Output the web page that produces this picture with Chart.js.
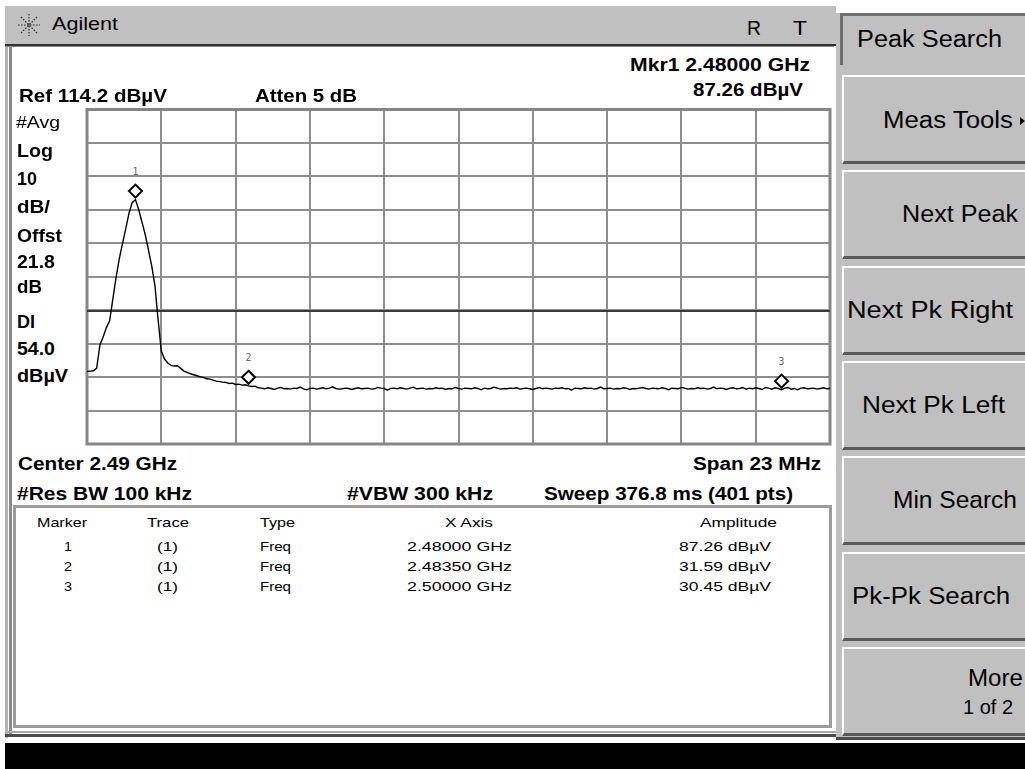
<!DOCTYPE html>
<html>
<head>
<meta charset="utf-8">
<script src="https://cdn.jsdelivr.net/npm/chart.js@4"></script>
<style>
  html, body { margin: 0; padding: 0; }
  body { width: 1025px; height: 769px; position: relative; overflow: hidden; background: #fff;
         font-family: "Liberation Sans", Arial, sans-serif; }
  .box { position: absolute; box-sizing: border-box; }
  .lbl { position: absolute; white-space: nowrap; line-height: 1.2; transform-origin: 0 50%; color: #000; }
  .key { position: absolute; box-sizing: border-box; left: 842px; width: 183px; height: 89px; background: #c0c0c0;
         border-top: 2px solid #fff; border-left: 2px solid #fff; border-bottom: 3px solid #5a5a5a; }
  #trace { position: absolute; left: 80px; top: 102px; }
</style>
</head>
<body>
<!-- title bar -->
<div class="box" style="left:5px;top:6px;width:831px;height:38px;background:#c0c0c0"></div>
<div class="box" style="left:5px;top:44px;width:831px;height:2px;background:#333"></div>
<div class="box" style="left:5px;top:46px;width:829px;height:1px;background:#8a8a8a"></div>
<svg style="position:absolute;left:17px;top:13px" width="24" height="24">
  <g stroke="#333" stroke-width="1.2" stroke-dasharray="1.6 1.4">
    <line x1="12" y1="1" x2="12" y2="23"/><line x1="1" y1="12" x2="23" y2="12"/>
    <line x1="4" y1="4" x2="20" y2="20"/><line x1="20" y1="4" x2="4" y2="20"/>
  </g>
</svg>
<!-- display frame -->
<div class="box" style="left:5px;top:47px;width:3px;height:691px;background:#b4b4b4"></div>
<div class="box" style="left:9px;top:47px;width:3px;height:688px;background:#8a8a8a"></div>
<div class="box" style="left:13px;top:505px;width:819px;height:223px;border:3px solid #9c9c9c;background:#fff"></div>
<div class="box" style="left:5px;top:731px;width:831px;height:2px;background:#a8a8a8"></div>
<div class="box" style="left:5px;top:734px;width:831px;height:3px;background:#4a4a4a"></div>
<div class="box" style="left:5px;top:743px;width:1020px;height:26px;background:#000"></div>
<!-- softkey panel -->
<div class="box" style="left:836px;top:13px;width:189px;height:727px;background:#c0c0c0"></div>
<div class="box" style="left:836px;top:737px;width:189px;height:3px;background:#4a4a4a"></div>
<div class="box" style="left:840px;top:13px;width:185px;height:52px;background:#c0c0c0;border-top:3px solid #6e6e6e;border-left:3px solid #6e6e6e"></div>
<div id="keys"></div>
<div class="box" style="left:1020px;top:117px;width:0;height:0;border-left:5px solid #000;border-top:4px solid transparent;border-bottom:4px solid transparent"></div>

<canvas id="trace" width="760" height="350"></canvas>

<script>
// instrument settings
var refLevel = 114.2;      // dBµV, top graticule line
var dbPerDiv = 10;
var displayLine = 54.0;    // dBµV
var centerGHz = 2.49;
var spanMHz = 23;
var sweepStartGHz = 2.4785; // first sweep point (left edge)
var sweepStepGHz = 0.0001;  // spacing of the sampled points below

// trace amplitudes (dBµV), one per sweep step
var traceAmps = [
  35.9, 36.0, 36.1, 36.9, 43.8, 46.2, 49.0, 51.0, 57.5, 64.0,
  69.6, 74.2, 78.6, 83.2, 86.4, 87.26, 84.3, 80.6, 76.9, 72.3,
  67.6, 61.8, 51.5, 42.0, 39.6, 38.4, 37.7, 37.5, 37.6, 36.8,
  36.0, 35.6, 35.2, 34.9, 34.6, 34.3, 34.1, 33.7, 33.6, 33.3,
  33.0, 32.9, 32.7, 32.6, 32.3, 32.4, 32.0, 32.1, 31.8, 31.9,
  31.59, 31.4, 31.5, 31.0,
  30.9, 30.7, 31.0, 30.8, 30.5, 30.9, 31.1, 30.7, 30.8, 30.6,
  30.9, 30.8, 31.2, 30.7, 30.4, 30.8, 30.9, 30.6, 30.8, 31.0,
  30.7, 30.9, 31.3, 30.8, 30.6, 30.7, 30.9, 30.8, 30.5, 30.8,
  31.0, 30.7, 30.8, 30.9, 30.6, 30.7, 31.1, 30.9, 30.8, 30.3,
  30.8, 30.9, 30.7, 31.0, 30.8, 30.6, 30.9, 31.2, 30.7, 30.8,
  30.9, 30.6, 30.8, 30.7, 31.0, 30.8, 30.9, 30.5, 30.8, 30.7,
  31.1, 30.8, 30.6, 30.9, 30.8, 30.7, 31.0, 30.8, 30.4, 30.9,
  30.7, 30.8, 31.2, 30.9, 30.6, 30.8, 30.7, 30.9, 30.8, 31.0,
  30.6, 30.8, 30.9, 30.7, 30.5, 30.8, 31.1, 30.7, 30.9, 30.8,
  30.6, 30.9, 30.8, 31.0, 30.7, 30.8, 30.3, 30.9, 30.8, 30.7,
  31.0, 30.8, 30.9, 30.6, 30.8, 31.2, 30.7, 30.8, 30.9, 30.6,
  30.8, 30.7, 31.0, 30.9, 30.5, 30.8, 30.7, 30.9, 31.1, 30.8,
  30.6, 30.9, 30.8, 30.7, 31.0, 30.8, 30.4, 30.9, 30.8, 30.7,
  31.1, 30.9, 30.6, 30.8, 30.7, 31.0, 30.8, 30.9, 30.6, 30.8,
  31.2, 30.7, 30.9, 30.8, 30.5, 30.9, 31.0, 30.7, 30.8, 31.1,
  30.6, 30.9, 30.7, 31.0, 30.8, 30.5, 31.1, 30.9, 30.6, 31.0,
  30.8, 30.45, 30.9, 31.1, 30.6, 30.8, 30.4, 30.9, 31.0, 30.7,
  30.8, 30.9, 30.6, 30.8, 31.0, 30.7, 30.8
];

// markers
var markerFreqs = [2.48000, 2.48350, 2.50000];  // GHz
var markerAmps = [87.26, 31.59, 30.45];          // dBµV

var softkeys = ['Meas Tools', 'Next Peak', 'Next Pk Right', 'Next Pk Left', 'Min Search', 'Pk-Pk Search', 'More'];

// text helper: stretch text horizontally to span left..right like the instrument font
function label(text, left, right, cy, size, weight, color) {
  var d = document.createElement('div');
  d.className = 'lbl';
  d.textContent = text;
  d.style.fontSize = size + 'px';
  d.style.fontWeight = weight || 'normal';
  if (color) d.style.color = color;
  d.style.left = left + 'px';
  d.style.top = (cy - size * 0.6) + 'px';
  document.body.appendChild(d);
  var w = d.getBoundingClientRect().width;
  if (right) d.style.transform = 'scaleX(' + ((right - left) / w).toFixed(3) + ')';
}

// softkey buttons
var keyBox = document.getElementById('keys');
softkeys.forEach(function (k, i) {
  var b = document.createElement('div');
  b.className = 'key';
  b.style.top = (75 + i * 95.3) + 'px';
  keyBox.appendChild(b);
});

label('Agilent', 52, 118, 24, 19);
label('R', 747, 761, 28, 21);
label('T', 793, 807, 28, 21);

label('Mkr1 ' + markerFreqs[0].toFixed(5) + ' GHz', 630, 810, 66, 18, 'bold');
label('Ref ' + refLevel.toFixed(1) + ' dBµV', 19, 167, 96.5, 18, 'bold');
label('Atten 5 dB', 255, 357, 96.5, 18, 'bold');
label(markerAmps[0].toFixed(2) + ' dBµV', 693, 803, 91, 18, 'bold');

label('#Avg', 16, 60, 123, 16);
label('Log', 17, 53, 152, 18, 'bold');
label(String(dbPerDiv), 17, 37, 180, 18, 'bold');
label('dB/', 17, 50, 208, 18, 'bold');
label('Offst', 17, 62, 237, 18, 'bold');
label('21.8', 17, 55, 263, 18, 'bold');
label('dB', 17, 42, 288, 18, 'bold');
label('DI', 17, 35, 323, 18, 'bold');
label(displayLine.toFixed(1), 17, 55, 350, 18, 'bold');
label('dBµV', 17, 68, 377, 18, 'bold');

label('Center ' + centerGHz + ' GHz', 18, 177, 465, 18, 'bold');
label('Span ' + spanMHz + ' MHz', 693, 821, 465, 18, 'bold');
label('#Res  BW 100 kHz', 17, 192, 495, 18, 'bold');
label('#VBW 300 kHz', 347, 493, 495, 18, 'bold');
label('Sweep 376.8 ms (401 pts)', 544, 793, 495, 18, 'bold');

label('Marker', 37, 87, 523, 13);
label('Trace', 147, 189, 523, 13);
label('Type', 260, 295, 523, 13);
label('X Axis', 445, 493, 523, 13);
label('Amplitude', 700, 777, 523, 13);
markerFreqs.forEach(function (f, i) {
  var cy = 547 + i * 20;
  label(String(i + 1), 64, 72, cy, 13);
  label('(1)', 157, 178, cy, 13);
  label('Freq', 260, 291, cy, 13);
  label(f.toFixed(5) + ' GHz', 407, 512, cy, 13);
  label(markerAmps[i].toFixed(2) + ' dBµV', 679, 771, cy, 13);
});

label('Peak Search', 857, 1002, 40, 23);
var keyText = [[883, 1013, 121], [902, 1018, 215], [847, 1013, 311], [862, 1005, 406],
               [893, 1017, 501], [852, 1010, 597], [968, 1023, 679]];
softkeys.forEach(function (k, i) {
  label(k, keyText[i][0], keyText[i][1], keyText[i][2], 23);
});
label('1 of 2', 963, 1013, 707, 20);

// trace points through the library scales
var tracePoints = traceAmps.map(function (a, i) {
  return { x: sweepStartGHz + i * sweepStepGHz, y: a };
});

var analyzer = {
  id: 'analyzer',
  beforeDatasetsDraw: function (c) {
    var ctx = c.ctx, a = c.chartArea;
    var yy = Math.round(c.scales.y.getPixelForValue(displayLine));
    ctx.save();
    ctx.strokeStyle = '#858585';
    ctx.lineWidth = 3;
    ctx.strokeRect(a.left, a.top, a.right - a.left, a.bottom - a.top);
    ctx.strokeStyle = '#3a3a3a';
    ctx.lineWidth = 2;
    ctx.beginPath();
    ctx.moveTo(a.left, yy);
    ctx.lineTo(a.right, yy);
    ctx.stroke();
    ctx.restore();
  },
  afterDatasetsDraw: function (c) {
    var ctx = c.ctx, xs = c.scales.x, ys = c.scales.y;
    ctx.save();
    markerFreqs.forEach(function (f, i) {
      var px = xs.getPixelForValue(f), py = ys.getPixelForValue(markerAmps[i]);
      var cy = py - 8.5, r = 6.5;
      ctx.beginPath();
      ctx.moveTo(px, cy - r);
      ctx.lineTo(px + r, cy);
      ctx.lineTo(px, cy + r);
      ctx.lineTo(px - r, cy);
      ctx.closePath();
      ctx.fillStyle = '#fff';
      ctx.fill();
      ctx.lineWidth = 2;
      ctx.strokeStyle = '#000';
      ctx.stroke();
      ctx.fillStyle = '#666';
      ctx.font = '10px "DejaVu Sans Mono"';
      ctx.textAlign = 'center';
      ctx.fillText(String(i + 1), px, py - 25);
    });
    ctx.restore();
  }
};

var gridStyle = { color: '#8e8e8e', lineWidth: 2, drawTicks: false };

new Chart(document.getElementById('trace'), {
  type: 'line',
  data: {
    datasets: [{
      data: tracePoints,
      borderColor: '#000',
      borderWidth: 1.4,
      pointRadius: 0,
      tension: 0,
      fill: false
    }]
  },
  options: {
    responsive: false,
    animation: false,
    events: [],
    layout: { padding: { left: 7, top: 7.5, right: 10, bottom: 8 } },
    plugins: { legend: { display: false }, title: { display: false }, tooltip: { enabled: false } },
    scales: {
      x: {
        type: 'linear',
        min: centerGHz - spanMHz / 2000,
        max: centerGHz + spanMHz / 2000,
        ticks: { display: false, count: 11 },
        grid: gridStyle,
        border: { display: false }
      },
      y: {
        min: refLevel - 10 * dbPerDiv,
        max: refLevel,
        ticks: { display: false, count: 11 },
        grid: gridStyle,
        border: { display: false }
      }
    }
  },
  plugins: [analyzer]
});
</script>
</body>
</html>
